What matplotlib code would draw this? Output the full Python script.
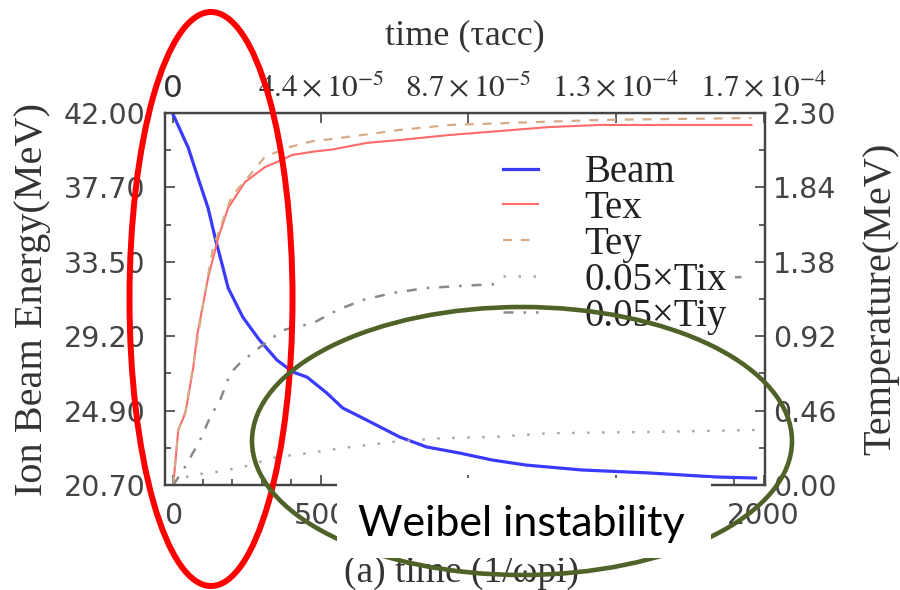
"""Ion beam energy / temperature vs time, with slide annotations."""
import matplotlib
matplotlib.use("Agg")
import matplotlib.pyplot as plt
from matplotlib.patches import Ellipse, Rectangle
from matplotlib.ticker import AutoMinorLocator, MultipleLocator

# --- data ----------------------------------------------------------------
beam_t = [0, 51, 84, 118, 142, 166, 186, 236, 290, 351, 405, 453, 520, 574,
          655, 767, 858, 970, 1081, 1196, 1385, 1611, 1838, 1973]
beam_e = [41.9, 40.0, 38.28, 36.56, 34.84, 33.3, 31.98, 30.3, 29.05, 27.86,
          27.17, 26.88, 25.97, 25.11, 24.42, 23.45, 22.88, 22.53, 22.13, 21.84,
          21.56, 21.39, 21.16, 21.10]

tex_t = [0, 17, 41, 68, 81, 118, 152, 186, 243, 311, 368, 402, 470, 541, 655,
         767, 936, 1274, 1443, 1959]
tex_v = [0.0, 0.34, 0.445, 0.73, 0.927, 1.28, 1.527, 1.713, 1.873, 1.966,
         2.01, 2.04, 2.06, 2.075, 2.115, 2.133, 2.164, 2.213, 2.226, 2.226]

tey_t = [0, 17, 41, 68, 101, 135, 199, 243, 311, 395, 470, 541, 767, 936,
         1443, 1959]
tey_v = [0.0, 0.34, 0.45, 0.74, 1.12, 1.47, 1.79, 1.88, 2.03, 2.09, 2.125,
         2.14, 2.195, 2.226, 2.257, 2.269]

tix_t = [0, 57, 125, 236, 351, 463, 574, 743, 912, 1081, 1274, 1611, 1973]
tix_v = [0.0, 0.062, 0.074, 0.111, 0.173, 0.198, 0.229, 0.266, 0.29, 0.297,
         0.32, 0.328, 0.34]

tiy_t = [0, 34, 91, 125, 159, 193, 226, 294, 372, 473, 554, 642, 743, 858,
         1037, 1400, 1939]
tiy_v = [0.0, 0.093, 0.278, 0.42, 0.526, 0.69, 0.754, 0.853, 0.958, 1.00,
         1.08, 1.144, 1.187, 1.218, 1.237, 1.265, 1.286]

energy_ticks = [20.70, 24.96, 29.22, 33.48, 37.74, 42.00]
energy_labels = ["20.70", "24.90", "29.20", "33.50", "37.70", "42.00"]
temp_ticks = [0.00, 0.46, 0.92, 1.38, 1.84, 2.30]
temp_labels = ["0.00", "0.46", "0.92", "1.38", "1.84", "2.30"]
time_ticks = [0, 500, 1000, 1500, 2000]
tau_labels = ["0", r"$4.4\times10^{-5}$", r"$8.7\times10^{-5}$",
              r"$1.3\times10^{-4}$", r"$1.7\times10^{-4}$"]

SERIF = "Liberation Serif"
plt.rcParams["mathtext.fontset"] = "stix"
spine_c = "#444444"
num_c = "#444444"

fig = plt.figure(figsize=(9, 5.9), dpi=100)
ax = fig.add_axes([165 / 900, 1 - 485 / 590, 600 / 900, 372 / 590])
ax2 = ax.twinx()

l_beam, = ax.plot(beam_t, beam_e, color="#3a3aff", lw=2.3, label="Beam")
l_tex, = ax2.plot(tex_t, tex_v, color="#ff6a6a", lw=1.5, label="Tex")
l_tey, = ax2.plot(tey_t, tey_v, color="#d6ab85", lw=1.6, ls=(0, (4, 4)),
                  label="Tey")
l_tix, = ax2.plot(tix_t, tix_v, color="#a8a8a8", lw=1.8, ls=(0, (1, 5)),
                  label="0.05×Tix")
l_tiy, = ax2.plot(tiy_t, tiy_v, color="#8a8a8a", lw=1.8,
                  ls=(0, (4, 4, 1, 4)), label="0.05×Tiy")

ax.set_xlim(-28, 2005)
ax.set_ylim(20.7, 42.0)
ax2.set_ylim(0, 2.3)

ax.set_yticks(energy_ticks, energy_labels)
ax2.set_yticks(temp_ticks, temp_labels)
ax.set_xticks(time_ticks, [str(v) for v in time_ticks])
ax.xaxis.set_minor_locator(MultipleLocator(100))
ax.yaxis.set_minor_locator(AutoMinorLocator(2))
ax2.yaxis.set_minor_locator(AutoMinorLocator(2))

for a in (ax, ax2):
    a.tick_params(which="both", direction="in", colors=spine_c,
                  labelcolor=num_c, labelsize=20.5, width=1.2)
    a.tick_params(which="major", length=7)
    a.tick_params(which="minor", length=4)
    for s in a.spines.values():
        s.set_color(spine_c)
        s.set_linewidth(1.6)
ax.tick_params(axis="y", pad=14)
ax.tick_params(axis="x", pad=12)
ax2.tick_params(axis="y", pad=6)
for lab in ax.get_xticklabels() + ax.get_yticklabels() + ax2.get_yticklabels():
    lab.set_family("DejaVu Sans")

top = ax.secondary_xaxis("top")
top.set_xticks(time_ticks, tau_labels)
top.tick_params(direction="in", length=7, colors=spine_c, labelcolor="#333333",
                labelsize=22.5, pad=7, width=1.2)
top.set_xlabel("time (τacc)", family=SERIF, fontsize=26, color="#333333",
               labelpad=20)

ax.set_ylabel("Ion Beam Energy(MeV)", family=SERIF, fontsize=29,
              color="#333333")
ax.yaxis.set_label_coords(-0.19, 0.5)
ax2.set_ylabel("Temperature(MeV)", family=SERIF, fontsize=29, color="#333333")
ax2.yaxis.set_label_coords(1.163, 0.5)
ax.set_xlabel("(a) time (1/ωpi)", family=SERIF, fontsize=27, color="#333333")
ax.xaxis.set_label_coords(0.495, -0.19)

leg = ax2.legend(handles=[l_beam, l_tex, l_tey, l_tix, l_tiy],
                 loc="upper left", bbox_to_anchor=(0.55, 0.91),
                 borderaxespad=0, borderpad=0.2, handlelength=0.9,
                 handletextpad=1.2, labelspacing=-0.03,
                 prop={"family": SERIF, "size": 28},
                 frameon=True, fancybox=False, framealpha=1,
                 facecolor="white", edgecolor="none")
for t in leg.get_texts():
    t.set_color("#222222")

# --- slide overlay (pixel coordinates) -----------------------------------
ov = fig.add_axes([0, 0, 1, 1])
ov.set_xlim(0, 900)
ov.set_ylim(590, 0)
ov.axis("off")
ov.add_patch(Ellipse((211, 299), 163, 574, fill=False, ec="#ff0000", lw=4.3))
ov.add_patch(Ellipse((522, 441), 540, 268, fill=False, ec="#4f6228", lw=3.3))
ov.add_patch(Rectangle((337, 478), 374, 80, fc="white", ec="none"))
ov.text(521, 524, "Weibel instability", family="Lato", fontsize=31,
        ha="center", va="center", color="black")

fig.savefig("out.png", dpi=100)
